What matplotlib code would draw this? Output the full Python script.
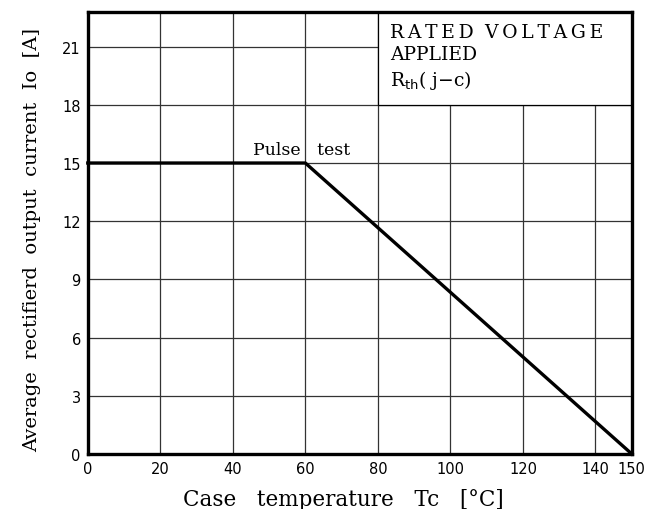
import numpy as np
import matplotlib
matplotlib.use("Agg")
import matplotlib.pyplot as plt
from matplotlib.patches import Rectangle

# derating curve
temp = [0, 60, 150]
current = [15, 15, 0]

xticks = [0, 20, 40, 60, 80, 100, 120, 140, 150]
yticks = [0, 3, 6, 9, 12, 15, 18, 21]
box_x = [80, 150]
box_y = [18, 22.8]

fig = plt.figure(figsize=(6.65, 5.10), dpi=100)
ax = fig.add_axes([0.132, 0.108, 0.818, 0.867])

ax.set_xlim(0, 150)
ax.set_ylim(0, 22.8)
ax.set_xticks(xticks)
ax.set_yticks(yticks)
ax.grid(True, color="#333333", linewidth=0.9, zorder=1)
ax.set_axisbelow(True)
ax.tick_params(length=0, pad=5, labelsize=10.5)
for lab in ax.get_xticklabels() + ax.get_yticklabels():
    lab.set_family("DejaVu Sans")

for s in ax.spines.values():
    s.set_linewidth(2.4)
    s.set_zorder(5)

# white note box covering the grid in the top right
ax.add_patch(Rectangle((box_x[0], box_y[0]), box_x[1] - box_x[0], box_y[1] - box_y[0],
                       facecolor="white", edgecolor="black", linewidth=0.9, zorder=2))
note = dict(family="DejaVu Serif", fontsize=13.5, va="center", ha="left", zorder=3)
ax.text(83.3, 21.75, "R A T E D   V O L T A G E".replace(" ", "\u2009"), **note)
ax.text(83.3, 20.6, "APPLIED", **note)
ax.text(83.3, 19.3, r"R$_{\mathrm{th}}$( j$-$c)", **note)

ax.plot(temp, current, color="black", linewidth=2.4, zorder=4, clip_on=False)
ax.text(59.0, 15.25, "Pulse   test", family="DejaVu Serif", fontsize=12.5,
        ha="center", va="bottom", zorder=3)

ax.set_xlabel("Case   temperature   Tc   [°C]", family="DejaVu Serif", fontsize=15.5)
ax.set_ylabel("Average  rectifierd  output  current  Io  [A]", family="DejaVu Serif",
              fontsize=14)
ax.xaxis.set_label_coords(0.47, -0.078)
ax.yaxis.set_label_coords(-0.085, 0.485)

fig.savefig("out.png", dpi=100)
